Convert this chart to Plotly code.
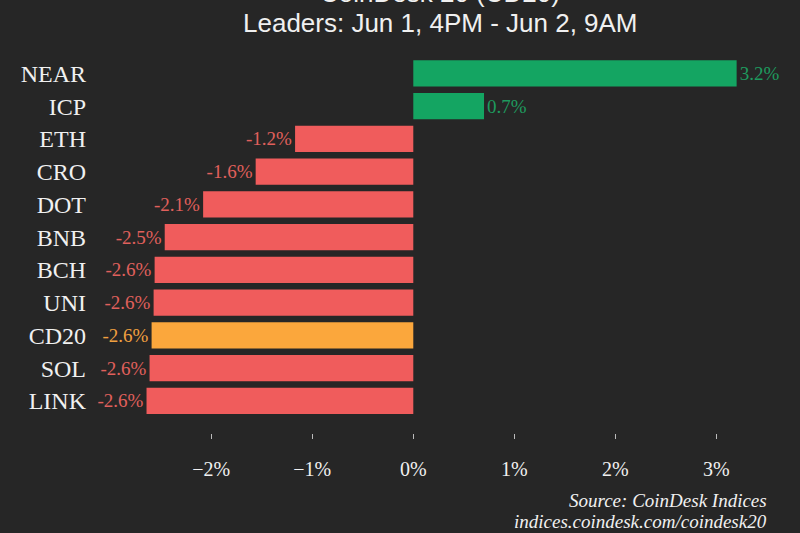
import plotly.graph_objects as go

tickers = ["NEAR", "ICP", "ETH", "CRO", "DOT", "BNB", "BCH", "UNI", "CD20", "SOL", "LINK"]
changes = [3.2, 0.7, -1.17, -1.56, -2.08, -2.46, -2.56, -2.57, -2.59, -2.61, -2.64]
x_tick_vals = [-2, -1, 0, 1, 2, 3]
x_tick_text = ["\u22122%", "\u22121%", "0%", "1%", "2%", "3%"]

BG = "#262626"
GREEN, GREEN_T = "#14a562", "#1e9a5e"
RED, RED_T = "#f05c5c", "#e0605c"
ORANGE, ORANGE_T = "#fba73c", "#f0a040"
SERIF = "Liberation Serif, DejaVu Serif, serif"
SANS = "Liberation Sans, Arial, sans-serif"

bar_colors, text_colors = [], []
for t, v in zip(tickers, changes):
    if t == "CD20":
        bar_colors.append(ORANGE); text_colors.append(ORANGE_T)
    elif v >= 0:
        bar_colors.append(GREEN); text_colors.append(GREEN_T)
    else:
        bar_colors.append(RED); text_colors.append(RED_T)

fig = go.Figure(go.Bar(
    x=changes, y=tickers, orientation="h",
    marker=dict(color=bar_colors, line=dict(width=0)),
    text=[f"{v:.1f}%" for v in changes],
    textposition="outside",
    textfont=dict(family=SERIF, size=19, color=text_colors),
    cliponaxis=False,
))

fig.update_layout(
    width=800, height=533,
    paper_bgcolor=BG, plot_bgcolor=BG,
    margin=dict(l=95, r=28, t=57, b=100),
    bargap=0.2,
    showlegend=False,
    xaxis=dict(range=[-3.15, 3.55], tickvals=x_tick_vals, ticktext=x_tick_text,
               showgrid=False, zeroline=False, showline=False,
               ticks="outside", ticklen=5, tickcolor="#bbbbbb", tickwidth=1,
               ticklabelstandoff=13,
               tickfont=dict(family=SERIF, size=20, color="#f0f0f0")),
    yaxis=dict(range=[10.98, -0.5], showgrid=False, zeroline=False, showline=False,
               ticks="", ticklabelstandoff=8,
               tickfont=dict(family=SERIF, size=24, color="#f0f0f0")),
    annotations=[
        dict(text="CoinDesk 20 (CD20)", xref="paper", yref="paper", x=0.51, y=1.170,
             xanchor="center", yanchor="middle", showarrow=False,
             font=dict(family=SANS, size=26, color="#f0f0f0")),
        dict(text="Leaders: Jun 1, 4PM - Jun 2, 9AM", xref="paper", yref="paper", x=0.51, y=1.090,
             xanchor="center", yanchor="middle", showarrow=False,
             font=dict(family=SANS, size=26, color="#f0f0f0")),
        dict(text="<i>Source: CoinDesk Indices</i>", xref="paper", yref="paper", x=0.9956, y=-0.18,
             xanchor="right", yanchor="middle", showarrow=False,
             font=dict(family=SERIF, size=19, color="#f0f0f0")),
        dict(text="<i>indices.coindesk.com/coindesk20</i>", xref="paper", yref="paper", x=0.9956, y=-0.235,
             xanchor="right", yanchor="middle", showarrow=False,
             font=dict(family=SERIF, size=19, color="#f0f0f0")),
    ],
)

fig.write_html("out.html")
